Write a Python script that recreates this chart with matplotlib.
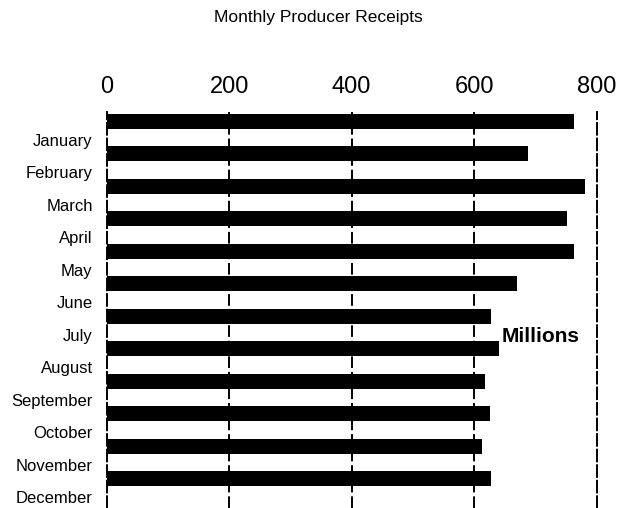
import matplotlib.pyplot as plt

months = ["January", "February", "March", "April", "May", "June", "July",
          "August", "September", "October", "November", "December"]
receipts = [763, 688, 781, 752, 762, 670, 627, 640, 618, 625, 613, 627]
xticks = [0, 200, 400, 600, 800]

plt.rcParams['font.family'] = ['Liberation Sans', 'DejaVu Sans']

fig = plt.figure(figsize=(6.23, 5.08), dpi=100)
ax = fig.add_axes([0.171, 0.0, 0.787, 0.78])

pos = list(range(len(months)))
ax.barh(pos, receipts, height=0.46, color="black", zorder=3)

# gridlines / frame lines, dashed like the scan
dash = (0, (6, 2))
for v in xticks[1:-1]:
    ax.axvline(v, color="black", linestyle=dash, linewidth=1.4, zorder=1)
for side in ["top", "bottom"]:
    ax.spines[side].set_visible(False)
for side in ["left", "right"]:
    ax.spines[side].set_linestyle(dash)
    ax.spines[side].set_linewidth(1.4)

ax.set_xlim(0, 800)
ax.set_ylim(11.9, -0.29)
ax.xaxis.tick_top()
ax.set_xticks(xticks)
ax.set_xticklabels([str(t) for t in xticks], fontsize=17)
ax.tick_params(axis="x", length=0, pad=10)

# month labels sit between bars
ax.set_yticks([p + 0.57 for p in pos])
ax.set_yticklabels(months, fontsize=12)
ax.tick_params(axis="y", length=0, pad=10)

ax.text(645, 6.62, "Millions", fontsize=15, fontweight="bold", va="center", ha="left")

fig.text(0.511, 0.966, "Monthly Producer Receipts", fontsize=12.5, ha="center", va="center")

fig.savefig("out.png", dpi=100)
